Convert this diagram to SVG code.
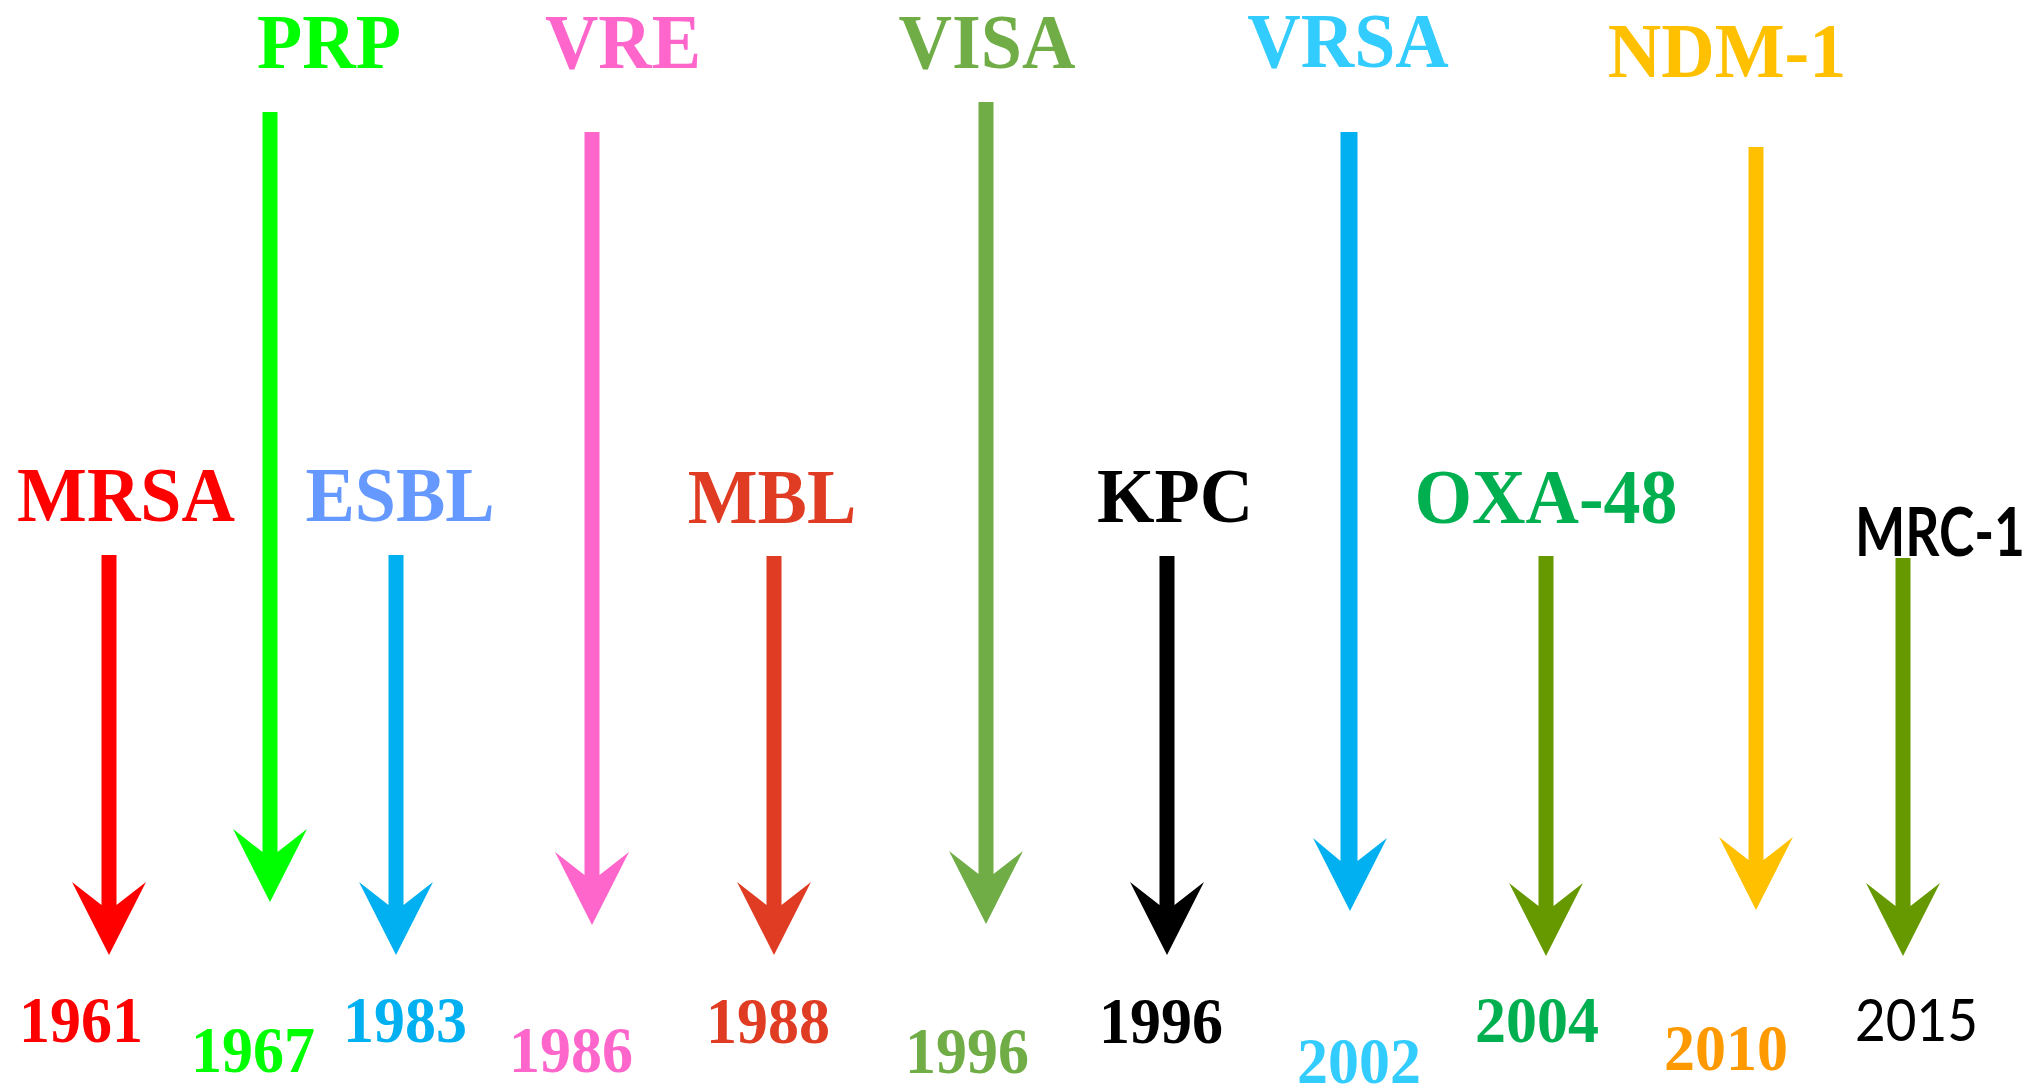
<svg xmlns="http://www.w3.org/2000/svg" width="2032" height="1086" viewBox="0 0 2032 1086">
<style>
.t{font-family:"Liberation Serif","Times New Roman",serif;font-weight:bold;font-size:74px;text-anchor:middle}
.y{font-family:"Liberation Serif","Times New Roman",serif;font-weight:bold;font-size:62px;text-anchor:middle}
.c{font-family:Lato,"Open Sans",sans-serif}
</style>
<rect width="2032" height="1086" fill="#ffffff"/>
<g id="connectors">
<path fill="#FF0000" d="M101.5,555 V905 L72,882 L109,955 L146,882 L116.5,905 V555 Z"/>
<path fill="#00FF00" d="M262.5,112 V852 L233,829 L270,902 L307,829 L277.5,852 V112 Z"/>
<path fill="#00B0F0" d="M388.5,555 V905 L359,882 L396,955 L433,882 L403.5,905 V555 Z"/>
<path fill="#FF66CC" d="M584.5,132 V875 L555,852 L592,925 L629,852 L599.5,875 V132 Z"/>
<path fill="#E03C24" d="M766.5,556 V905 L737,882 L774,955 L811,882 L781.5,905 V556 Z"/>
<path fill="#70AD47" d="M978.5,102 V874 L949,851 L986,924 L1023,851 L993.5,874 V102 Z"/>
<path fill="#000000" d="M1159.5,556 V905 L1130,882 L1167,955 L1204,882 L1174.5,905 V556 Z"/>
<path fill="#00B0F0" d="M1340.5,132 V861 L1313,838 L1350,911 L1387,838 L1357.5,861 V132 Z"/>
<path fill="#669900" d="M1538.5,556 V906 L1509,883 L1546,956 L1583,883 L1553.5,906 V556 Z"/>
<path fill="#FFC000" d="M1748.5,147 V860 L1719,837 L1756,910 L1793,837 L1763.5,860 V147 Z"/>
<path fill="#669900" d="M1895.5,558 V906 L1866,883 L1903,956 L1940,883 L1910.5,906 V558 Z"/>
</g>
<g id="mrsa">
<text class="t" fill="#FF0000" transform="translate(126,521) scale(1,1.05)">MRSA</text>
<text class="y" fill="#FF0000" transform="translate(81,1042) scale(1,1.05)">1961</text>
</g>
<g id="prp">
<text class="t" fill="#00FF00" transform="translate(329,68) scale(1,1.05)">PRP</text>
<text class="y" fill="#00FF00" transform="translate(253,1072) scale(1,1.05)">1967</text>
</g>
<g id="esbl">
<text class="t" fill="#6699FF" transform="translate(400,521) scale(1,1.05)">ESBL</text>
<text class="y" fill="#00B0F0" transform="translate(405,1042) scale(1,1.05)">1983</text>
</g>
<g id="vre">
<text class="t" fill="#FF66CC" transform="translate(623,68) scale(1,1.05)">VRE</text>
<text class="y" fill="#FF66CC" transform="translate(571,1072) scale(1,1.05)">1986</text>
</g>
<g id="mbl">
<text class="t" fill="#E03C24" transform="translate(772,523) scale(1,1.05)">MBL</text>
<text class="y" fill="#E03C24" transform="translate(768,1043) scale(1,1.05)">1988</text>
</g>
<g id="visa">
<text class="t" fill="#70AD47" transform="translate(987,68) scale(1,1.05)">VISA</text>
<text class="y" fill="#70AD47" transform="translate(967,1073) scale(1,1.05)">1996</text>
</g>
<g id="kpc">
<text class="t" fill="#000000" transform="translate(1175,522) scale(1,1.05)">KPC</text>
<text class="y" fill="#000000" transform="translate(1161,1043) scale(1,1.05)">1996</text>
</g>
<g id="vrsa">
<text class="t" fill="#33CCFF" transform="translate(1348,67) scale(1,1.05)">VRSA</text>
<text class="y" fill="#33CCFF" transform="translate(1359,1083) scale(1,1.05)">2002</text>
</g>
<g id="oxa48">
<text class="t" fill="#00B050" transform="translate(1546,523) scale(1,1.05)">OXA-48</text>
<text class="y" fill="#00B050" transform="translate(1537,1042) scale(1,1.05)">2004</text>
</g>
<g id="ndm1">
<text class="t" fill="#FFC000" transform="translate(1727,77) scale(1,1.05)">NDM-1</text>
<text class="y" fill="#FF9900" transform="translate(1726,1070) scale(1,1.05)">2010</text>
</g>
<g id="mrc1">
<text class="c" fill="#000000" font-weight="bold" font-size="66" x="1855" y="556" textLength="170" lengthAdjust="spacingAndGlyphs">MRC-1</text>
<text class="c" fill="#000000" font-size="58" x="1855" y="1041" textLength="123" lengthAdjust="spacingAndGlyphs">2015</text>
</g>
</svg>
